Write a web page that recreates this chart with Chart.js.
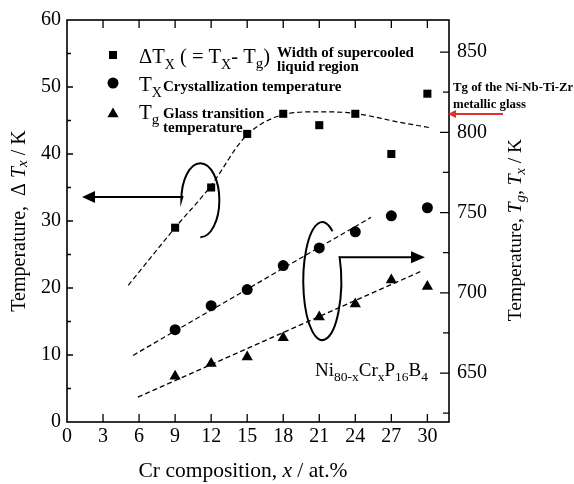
<!DOCTYPE html>
<html>
<head>
<meta charset="utf-8">
<title>Ni-Cr-P-B glass forming</title>
<script src="https://cdn.jsdelivr.net/npm/chart.js@4.4.0/dist/chart.umd.min.js"></script>
<style>
  html, body { margin: 0; padding: 0; background: #fff; }
</style>
<script>
// Cr content (at.%) of the measured alloys
const crX = [9, 12, 15, 18, 21, 24, 27, 30];
// width of supercooled liquid region, left axis (K)
const deltaTx = [29, 35, 43, 46, 44.3, 46, 40, 49];
// crystallization and glass transition temperatures, right axis (K)
const tx = [677, 692, 702, 717, 728, 738, 748, 753];
const tg = [648, 656, 660, 672, 685, 693, 708, 704];

// dashed guide lines
const deltaFitX = [5.1, 9, 12, 14.8, 17.5, 20.8, 23.8, 27.5, 30.3];
const deltaFitY = [20.4, 29, 35.3, 42.5, 45.6, 46.3, 46.1, 44.8, 43.9];
const txFitX = [5.5, 25.3];
const txFitY = [661, 747];
const tgFitX = [5.9, 29.5];
const tgFitY = [635, 713.5];

// axis ticks
const xTicks = [0, 3, 6, 9, 12, 15, 18, 21, 24, 27, 30];
const leftTicks = [0, 10, 20, 30, 40, 50, 60];
const rightTicks = [650, 700, 750, 800, 850];

const SERIF = "'Liberation Serif', 'Times New Roman', serif";
</script>
</head>
<body>
<canvas id="chart" width="574" height="484"></canvas>
<script>
function pts(xs, ys) { return xs.map((x, i) => ({ x: x, y: ys[i] })); }

// draw a run of text pieces (normal / italic / bold / subscript)
function rich(ctx, pieces, x, y, center) {
  let w = 0;
  pieces.forEach(p => {
    ctx.font = (p.i ? 'italic ' : '') + (p.b ? 'bold ' : '') + p.s + 'px ' + SERIF;
    p.w = ctx.measureText(p.t).width;
    w += p.w;
  });
  let cx = center ? x - w / 2 : x;
  pieces.forEach(p => {
    ctx.font = (p.i ? 'italic ' : '') + (p.b ? 'bold ' : '') + p.s + 'px ' + SERIF;
    ctx.fillText(p.t, cx, y + (p.dy || 0));
    cx += p.w;
  });
}

function marker(ctx, type, x, y) {
  ctx.beginPath();
  if (type === 'rect') ctx.rect(x - 4, y - 4, 8, 8);
  else if (type === 'circle') ctx.arc(x, y, 5.5, 0, Math.PI * 2);
  else { ctx.moveTo(x, y - 6.5); ctx.lineTo(x + 5.6, y + 3.2); ctx.lineTo(x - 5.6, y + 3.2); ctx.closePath(); }
  ctx.fill();
}

function arrowHead(ctx, tipX, tipY, dir, len, half) {
  ctx.beginPath();
  ctx.moveTo(tipX, tipY);
  ctx.lineTo(tipX - dir * len, tipY - half);
  ctx.lineTo(tipX - dir * len, tipY + half);
  ctx.closePath();
  ctx.fill();
}

const decorations = {
  id: 'decorations',
  afterDraw(chart) {
    const ctx = chart.ctx;
    const a = chart.chartArea;
    const xs = chart.scales.x, yl = chart.scales.y, yr = chart.scales.y2;
    const X = v => xs.getPixelForValue(v);
    const YL = v => yl.getPixelForValue(v);
    const YR = v => yr.getPixelForValue(v);
    ctx.save();
    ctx.fillStyle = '#000';
    ctx.strokeStyle = '#000';

    // frame
    ctx.lineWidth = 1.6;
    ctx.strokeRect(a.left, a.top, a.right - a.left, a.bottom - a.top);

    // inward ticks
    ctx.lineWidth = 1.3;
    ctx.beginPath();
    for (let v = 5; v < 60; v += 5) {
      const len = v % 10 === 0 ? 6 : 4;
      ctx.moveTo(a.left, YL(v)); ctx.lineTo(a.left + len, YL(v));
    }
    for (let v = 625; v <= 850; v += 25) {
      const len = v % 50 === 0 ? 9 : 6;
      ctx.moveTo(a.right, YR(v)); ctx.lineTo(a.right - len, YR(v));
    }
    xTicks.forEach(v => {
      if (v === 0) return;
      ctx.moveTo(X(v), a.bottom); ctx.lineTo(X(v), a.bottom - 8);
      ctx.moveTo(X(v), a.top); ctx.lineTo(X(v), a.top + 8);
    });
    ctx.stroke();

    // axis titles
    ctx.textBaseline = 'alphabetic';
    rich(ctx, [{ t: 'Cr composition, ', s: 21.5 }, { t: 'x', s: 21.5, i: true }, { t: ' / at.%', s: 21.5 }], 243, 477, true);

    ctx.save();
    ctx.translate(25, (a.top + a.bottom) / 2);
    ctx.rotate(-Math.PI / 2);
    rich(ctx, [{ t: 'Temperature,  \u0394 ', s: 20 }, { t: 'T', s: 20, i: true },
      { t: 'x', s: 15, i: true, dy: 2 }, { t: ' / K', s: 20 }], 0, 0, true);
    ctx.restore();

    ctx.save();
    ctx.translate(521, 230);
    ctx.rotate(-Math.PI / 2);
    rich(ctx, [{ t: 'Temperature, ', s: 19.5 }, { t: 'T', s: 19.5, i: true }, { t: 'g', s: 14.5, i: true, dy: 4 },
      { t: ', ', s: 19.5 }, { t: 'T', s: 19.5, i: true }, { t: 'x', s: 14.5, i: true, dy: 4 }, { t: ' / K', s: 19.5 }], 0, 0, true);
    ctx.restore();

    // legend inside the plot
    marker(ctx, 'rect', 113, 55);
    marker(ctx, 'circle', 113, 83);
    marker(ctx, 'tri', 113, 114);
    rich(ctx, [{ t: '\u0394T', s: 20.5 }, { t: 'X', s: 14, dy: 6 }, { t: ' ( = T', s: 20.5 }, { t: 'X', s: 14, dy: 6 },
      { t: '- T', s: 20.5 }, { t: 'g', s: 15, dy: 5 }, { t: ')', s: 20.5 }], 139, 63);
    rich(ctx, [{ t: 'Width of supercooled', s: 15, b: true }], 277, 57);
    rich(ctx, [{ t: 'liquid region', s: 15, b: true }], 277, 71);
    rich(ctx, [{ t: 'T', s: 21 }, { t: 'X', s: 14, dy: 6 }], 139, 91);
    rich(ctx, [{ t: 'Crystallization temperature', s: 15, b: true }], 163, 91);
    rich(ctx, [{ t: 'T', s: 21 }, { t: 'g', s: 15, dy: 5 }], 139, 119);
    rich(ctx, [{ t: 'Glass transition', s: 15, b: true }], 163, 118);
    rich(ctx, [{ t: 'temperature', s: 15, b: true }], 163, 132);

    // composition label
    rich(ctx, [{ t: 'Ni', s: 19 }, { t: '80-x', s: 13.5, dy: 5 }, { t: 'Cr', s: 19 }, { t: 'x', s: 13.5, dy: 5 },
      { t: 'P', s: 19 }, { t: '16', s: 13.5, dy: 5 }, { t: 'B', s: 19 }, { t: '4', s: 13.5, dy: 5 }], 315, 376);

    // left loop + arrow (points to left axis)
    ctx.lineWidth = 2;
    const ly = YL(33.6);
    ctx.beginPath();
    ctx.moveTo(X(1.25) + 10, ly);
    ctx.lineTo(X(9.6), ly);
    ctx.ellipse(X(11.1), YL(33.1), 19, 37, 0, Math.PI, Math.PI * 2.5, false);
    ctx.stroke();
    arrowHead(ctx, X(1.25), ly, -1, 13, 6);

    // right loop + arrow (points to right axis)
    const ry = YR(722.2);
    const s = -57.6 * Math.PI / 180, e = -24 * Math.PI / 180;
    ctx.beginPath();
    ctx.ellipse(X(21.25), YR(707.3), 19, 59, 0, s, e, true);
    ctx.lineTo(X(22.75), ry);
    ctx.lineTo(X(29.8) - 10, ry);
    ctx.stroke();
    arrowHead(ctx, X(29.8), ry, 1, 14, 6);

    // red marker for the Ni-Nb-Ti-Zr glass
    const red = '#e2312b';
    const gy = YR(811.5);
    ctx.strokeStyle = red; ctx.fillStyle = red;
    ctx.beginPath();
    ctx.moveTo(503, gy); ctx.lineTo(a.right + 6, gy);
    ctx.stroke();
    arrowHead(ctx, a.right - 1, gy, -1, 8, 4);
    ctx.fillStyle = '#000';
    rich(ctx, [{ t: 'Tg of the Ni-Nb-Ti-Zr', s: 12.8, b: true }], 453, 91);
    rich(ctx, [{ t: 'metallic glass', s: 12.8, b: true }], 453, 108);
    ctx.restore();
  }
};

const tickFont = { family: SERIF, size: 20 };
const dashed = { borderColor: '#000', borderWidth: 1.2, borderDash: [5, 3], pointRadius: 0, showLine: true, fill: false };

new Chart(document.getElementById('chart'), {
  type: 'scatter',
  data: {
    datasets: [
      { label: 'dTx', data: pts(crX, deltaTx), yAxisID: 'y', pointStyle: 'rect', pointRadius: 5.7, backgroundColor: '#000', borderWidth: 0 },
      { label: 'Tx', data: pts(crX, tx), yAxisID: 'y2', pointStyle: 'circle', pointRadius: 5.5, backgroundColor: '#000', borderWidth: 0 },
      { label: 'Tg', data: pts(crX, tg), yAxisID: 'y2', pointStyle: 'triangle', pointRadius: 6.5, backgroundColor: '#000', borderWidth: 0 },
      Object.assign({ label: 'dTx fit', data: pts(deltaFitX, deltaFitY), yAxisID: 'y', cubicInterpolationMode: 'monotone' }, dashed),
      Object.assign({ label: 'Tx fit', data: pts(txFitX, txFitY), yAxisID: 'y2' }, dashed),
      Object.assign({ label: 'Tg fit', data: pts(tgFitX, tgFitY), yAxisID: 'y2' }, dashed)
    ]
  },
  options: {
    responsive: false,
    animation: false,
    devicePixelRatio: 1,
    layout: { padding: { top: 20, left: 0, right: 0, bottom: 0 } },
    plugins: { legend: { display: false }, tooltip: { enabled: false } },
    scales: {
      x: {
        type: 'linear', min: 0, max: 31.8,
        grid: { display: false, drawTicks: false }, border: { display: false },
        ticks: { font: tickFont, color: '#000', padding: 3, maxRotation: 0 },
        afterBuildTicks: s => { s.ticks = xTicks.map(v => ({ value: v })); },
        afterFit: s => { s.height = 62; }
      },
      y: {
        position: 'left', min: 0, max: 60,
        grid: { display: false, drawTicks: false }, border: { display: false },
        ticks: { font: tickFont, color: '#000', padding: 6 },
        afterBuildTicks: s => { s.ticks = leftTicks.map(v => ({ value: v })); },
        afterFit: s => { s.width = 67; }
      },
      y2: {
        position: 'right', min: 619.5, max: 870,
        grid: { display: false, drawTicks: false }, border: { display: false },
        ticks: { font: tickFont, color: '#000', padding: 8 },
        afterBuildTicks: s => { s.ticks = rightTicks.map(v => ({ value: v })); },
        afterFit: s => { s.width = 125; }
      }
    }
  },
  plugins: [decorations]
});
</script>
</body>
</html>
